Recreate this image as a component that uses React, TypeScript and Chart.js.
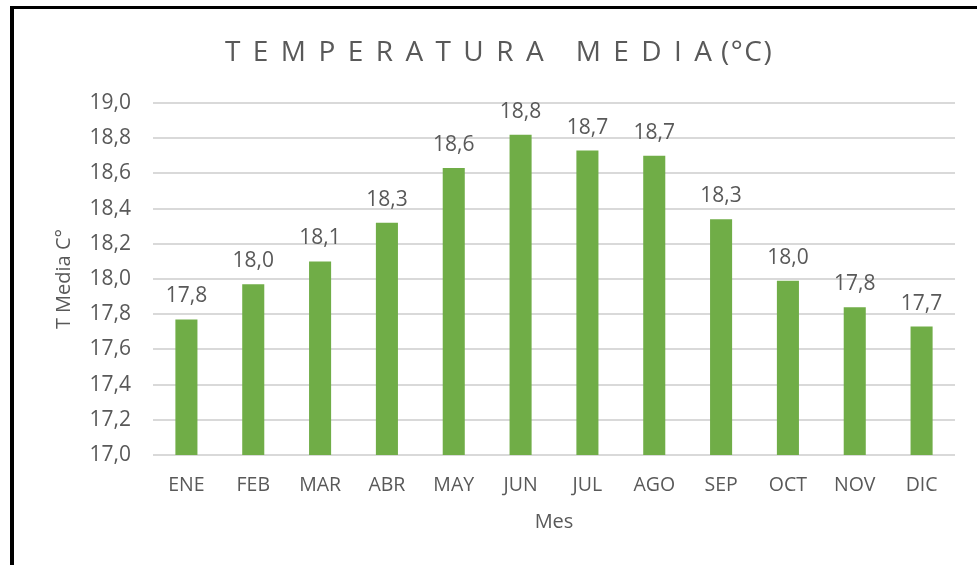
import React, { useEffect, useRef } from "react";
import { Chart, registerables } from "chart.js";

Chart.register(...registerables);

const months = ["ENE", "FEB", "MAR", "ABR", "MAY", "JUN", "JUL", "AGO", "SEP", "OCT", "NOV", "DIC"];
const tMedia = [17.77, 17.97, 18.1, 18.32, 18.63, 18.82, 18.73, 18.7, 18.34, 17.99, 17.84, 17.73];
const yMin = 17.0;
const yMax = 19.0;
const yStep = 0.2;
const titleMain = "TEMPERATURA MEDIA";
const titleUnit = "(°C)";
const yTitle = "T Media C°";
const xTitle = "Mes";

const FONT = "'Open Sans', sans-serif";
const GRAY = "#595959";
const GREEN = "#70AD47";

const fmt = (v: number) => v.toFixed(1).replace(".", ",");

const drawSpaced = (ctx: CanvasRenderingContext2D, text: string, x: number, y: number, sp: number) => {
  for (const ch of text) {
    ctx.fillText(ch, x, y);
    x += ctx.measureText(ch).width + sp;
  }
  return x;
};

const textPlugin = {
  id: "customTexts",
  afterDatasetsDraw(chart: any) {
    const ctx = chart.ctx as CanvasRenderingContext2D;
    const area = chart.chartArea;
    ctx.save();
    ctx.fillStyle = GRAY;

    // data labels
    ctx.font = `21px ${FONT}`;
    ctx.textAlign = "center";
    ctx.textBaseline = "alphabetic";
    const meta = chart.getDatasetMeta(0);
    meta.data.forEach((bar: any, i: number) => {
      ctx.fillText(fmt(tMedia[i]), bar.x, bar.y - 17);
    });

    // axis titles
    ctx.font = `20px ${FONT}`;
    ctx.textBaseline = "middle";
    ctx.fillText(xTitle, (area.left + area.right) / 2, 522);
    ctx.save();
    ctx.translate(64, (area.top + area.bottom) / 2);
    ctx.rotate(-Math.PI / 2);
    ctx.fillText(yTitle, 0, 0);
    ctx.restore();

    // chart title with letter spacing
    ctx.font = `28px ${FONT}`;
    ctx.textAlign = "left";
    ctx.textBaseline = "middle";
    const startX = 225;
    const endX = 712;
    let plain = 0;
    for (const ch of titleMain) plain += ctx.measureText(ch).width;
    const sp = (endX - startX - plain) / (titleMain.length - 1);
    drawSpaced(ctx, titleMain, startX, 53, sp);
    drawSpaced(ctx, titleUnit, 721, 53, 1.5);
    ctx.restore();
  },
};

export default function App() {
  const ref = useRef<HTMLCanvasElement>(null);
  useEffect(() => {
    if (!ref.current) return;
    const chart = new Chart(ref.current, {
      type: "bar",
      data: {
        labels: months,
        datasets: [
          {
            label: yTitle,
            data: tMedia,
            backgroundColor: GREEN,
            borderWidth: 0,
            barPercentage: 0.33,
            categoryPercentage: 1,
          },
        ],
      },
      options: {
        responsive: false,
        animation: false,
        layout: { padding: { top: 103, right: 22, left: 0, bottom: 0 } },
        plugins: {
          legend: { display: false },
          title: { display: false },
          tooltip: { enabled: false },
        },
        scales: {
          x: {
            grid: { display: false, drawTicks: false },
            border: { display: false },
            ticks: { color: GRAY, font: { family: FONT, size: 19.5 }, padding: 19 },
            afterFit: (s: any) => {
              s.height = 110;
            },
          },
          y: {
            min: yMin,
            max: yMax,
            grid: { color: "#d9d9d9", lineWidth: 2, drawTicks: false },
            border: { display: false },
            ticks: {
              stepSize: yStep,
              color: GRAY,
              font: { family: FONT, size: 21 },
              padding: 22,
              callback: (v: any) => fmt(Number(v)),
            },
            afterFit: (s: any) => {
              s.width = 153;
            },
          },
        },
      },
      plugins: [textPlugin],
    });
    return () => chart.destroy();
  }, []);

  return (
    <div style={{ position: "fixed", left: 0, top: 0, width: 977, height: 565, overflow: "hidden", background: "#fff" }}>
      <canvas ref={ref} width={977} height={565} style={{ position: "absolute", left: 0, top: 0 }} />
      <div
        style={{
          position: "absolute",
          left: 10,
          top: 6,
          width: 1000,
          height: 600,
          borderLeft: "4px solid #000",
          borderTop: "3px solid #000",
          pointerEvents: "none",
        }}
      />
    </div>
  );
}
